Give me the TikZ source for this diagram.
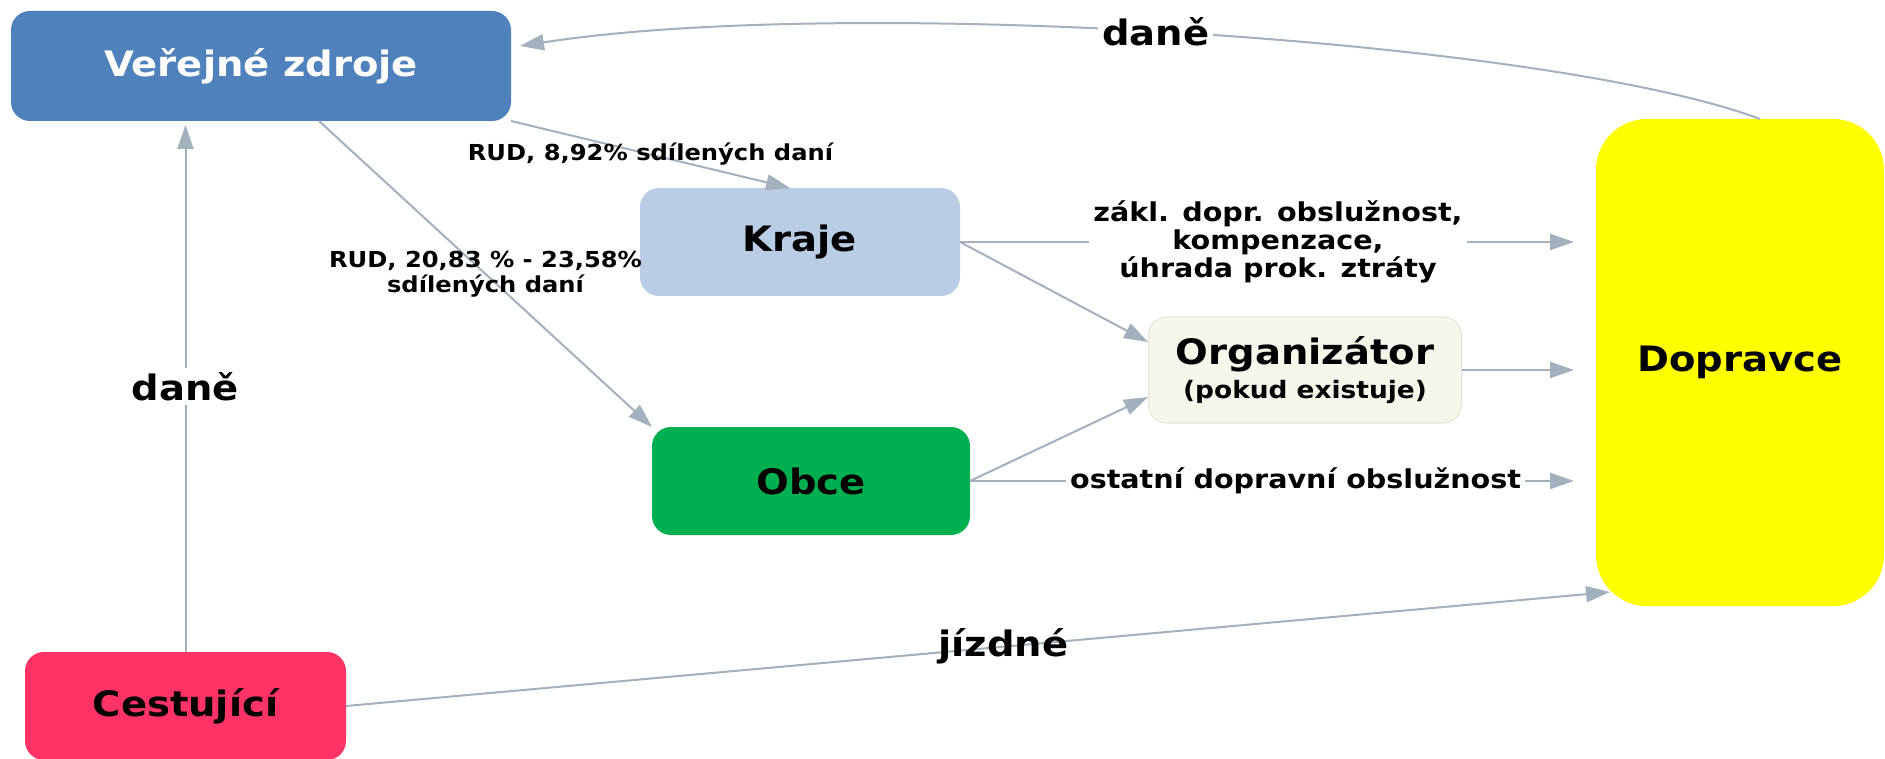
\documentclass[tikz,border=0pt]{standalone}
\usepackage{fontspec}
\setmainfont[FakeStretch=1.1]{DejaVu Sans}
\usetikzlibrary{arrows.meta, calc}
\definecolor{cblue}{HTML}{4F81BD}
\definecolor{clight}{HTML}{B9CDE5}
\definecolor{cgreen}{HTML}{00B050}
\definecolor{ccream}{HTML}{F7F6EA}
\definecolor{cyellow}{HTML}{FFFF00}
\definecolor{cpink}{HTML}{FF3366}
\definecolor{cgrey}{HTML}{A3B1BF}
\tikzset{
  every picture/.style={line width=2pt},
  box/.style={draw=#1, fill=#1, rounded corners=18pt, align=center, inner sep=0pt,
    minimum width=318pt, minimum height=106pt, font=\fontsize{35}{40}\selectfont\bfseries},
  box/.default=cgrey,
  arrow/.style={-{Triangle[length=24pt, width=16pt]}, draw=cgrey, line width=2pt},
  big/.style={font=\fontsize{35}{40}\selectfont\bfseries, fill=white, inner sep=4pt},
  note/.style={font=\fontsize{26}{28}\selectfont\bfseries, align=center, fill=white, inner sep=4pt},
  small/.style={font=\fontsize{22}{25}\selectfont\bfseries, align=center, inner sep=2pt},
}
\begin{document}
\begin{tikzpicture}[x=1pt, y=-1pt]
  \useasboundingbox[fill=white] (0,0) rectangle (1885,759);
  % nodes
  \node[box=cblue, text=white, minimum width=498pt, minimum height=108pt] (vz) at (261,66) {Veřejné zdroje};
  \node[box=clight] (kr) at (800,242) {Kraje};
  \node[box=cgreen, minimum width=316pt] (ob) at (811,481) {Obce};
  \node[box=ccream, draw=ccream!85!gray, line width=1pt, minimum width=313pt] (org) at (1305,370)
    {Organizátor\\[-6pt]\fontsize{24}{28}\selectfont (pokud existuje)};
  \node[box=cyellow, rounded corners=50pt, minimum width=286pt, minimum height=485pt] (dop) at (1740,362.5) {Dopravce};
  \node[box=cpink, minimum width=319pt] (ces) at (185.5,706) {Cestující};
  % money flows
  \draw[arrow] ($(dop.north)+(20,0)$) .. controls (1550,40) and (850,-5) .. ($(vz.east)+(9,-20)$)
    node[big, pos=0.52] {daně};
  \draw[arrow] (vz.south east) -- ($(kr.north)+(-10,0)$)
    node[small, midway] {RUD, 8,92\% sdílených daní};
  \draw[arrow] ($(vz.south)+(58,0)$) -- (ob.north west)
    node[small, midway] {RUD, 20,83 \% - 23,58\%\\sdílených daní};
  \draw[arrow, shorten >=4pt] (ces.north) -- (ces.north |- vz.south) node[big, midway] {daně};
  \draw[arrow, shorten >=22pt] (kr.east) -- (kr.east -| dop.west)
    node[note, midway] {zákl. dopr. obslužnost,\\kompenzace,\\úhrada prok. ztráty};
  \draw[arrow] (kr.east) -- ($(org.west)+(0,-28)$);
  \draw[arrow, shorten >=22pt] (org.east) -- (org.east -| dop.west);
  \draw[arrow] (ob.east) -- ($(org.west)+(0,27)$);
  \draw[arrow, shorten >=22pt] (ob.east) -- (ob.east -| dop.west)
    node[note, pos=0.52] {ostatní dopravní obslužnost};
  \draw[arrow] (ces.east) -- ($(dop.south west)+(14,-14)$) node[big, fill=none, pos=0.52] {jízdné};
\end{tikzpicture}
\end{document}
